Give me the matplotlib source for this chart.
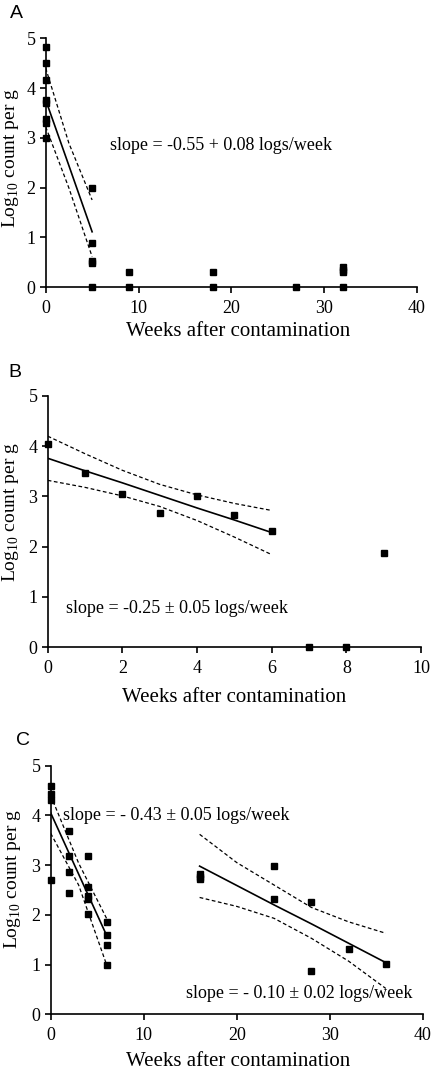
import numpy as np
import matplotlib
matplotlib.use("Agg")
import matplotlib.pyplot as plt

plt.rcParams['font.family'] = ['Liberation Serif', 'DejaVu Serif']
plt.rcParams['mathtext.fontset'] = 'custom'
plt.rcParams['mathtext.rm'] = 'Liberation Serif'

# ---- panel A ----
a_x = [0, 0, 0, 0, 0, 0, 0, 0, 5, 5, 5, 5, 5, 9, 9, 18, 18, 27, 32, 32, 32, 32]
a_y = [4.82, 4.5, 4.17, 3.75, 3.7, 3.38, 3.3, 3.0, 2.0, 0.88, 0.52, 0.48, 0.0,
       0.3, 0.0, 0.3, 0.0, 0.0, 0.4, 0.35, 0.3, 0.0]
a_fit_x = [0, 2.5, 5]
a_fit = [3.76, 2.44, 1.11]
a_up = [4.40, 2.89, 1.75]
a_lo = [3.22, 1.99, 0.61]

# ---- panel B ----
b_x = [0, 1, 2, 3, 4, 5, 6, 7, 8, 9]
b_y = [4.05, 3.47, 3.05, 2.67, 3.0, 2.62, 2.32, 0.0, 0.0, 1.88]
b_fit_x = [0, 1, 2, 3, 4, 5, 6]
b_fit = [3.76, 3.51, 3.27, 3.02, 2.77, 2.53, 2.28]
b_up = [4.20, 3.85, 3.52, 3.24, 3.03, 2.86, 2.72]
b_lo = [3.32, 3.18, 3.01, 2.80, 2.52, 2.19, 1.84]

# ---- panel C ----
c_x = [0, 0, 0, 0, 2, 2, 2, 2, 4, 4, 4, 4, 4, 6, 6, 6, 6,
       16, 16, 16, 24, 24, 28, 28, 32, 36]
c_y = [4.59, 4.44, 4.32, 2.70, 3.69, 3.18, 2.86, 2.43, 3.18, 2.57, 2.38, 2.32, 2.01,
       1.86, 1.59, 1.39, 0.99, 2.83, 2.77, 2.72, 2.99, 2.32, 2.26, 0.88, 1.31, 1.01]
c1_fit_x = [0, 3, 6]
c1_fit = [4.05, 2.82, 1.59]
c1_up = [4.40, 3.04, 1.93]
c1_lo = [3.64, 2.60, 1.00]
c2_fit_x = [16, 20, 24, 28, 32, 36]
c2_fit = [2.98, 2.59, 2.20, 1.82, 1.43, 1.04]
c2_up = [3.62, 3.05, 2.60, 2.15, 1.86, 1.63]
c2_lo = [2.35, 2.17, 1.93, 1.53, 1.07, 0.52]

W, H = 432, 1077
fig = plt.figure(figsize=(W / 100, H / 100), dpi=100)


def make_ax(l, r, t, b):
    return fig.add_axes([l / W, 1 - b / H, (r - l) / W, (b - t) / H])


def style(ax, xmax, xstep):
    ax.set_xlim(0, xmax)
    ax.set_ylim(0, 5)
    ax.set_xticks(np.arange(0, xmax + 0.1, xstep))
    ax.set_yticks(range(6))
    for s in ['top', 'right']:
        ax.spines[s].set_visible(False)
    for s in ['left', 'bottom']:
        ax.spines[s].set_linewidth(1.2)
    ax.tick_params(direction='out', length=4.3, width=1.2, labelsize=13)
    ax.tick_params(axis='x', pad=5)
    ax.tick_params(axis='y', pad=3)


def pts(ax, x, y):
    ax.plot(x, y, 's', color='black', markersize=4, clip_on=False, zorder=5)


def band(ax, fx, fit, up, lo):
    ax.plot(fx, fit, '-', color='black', lw=1.2)
    ax.plot(fx, up, '--', color='black', lw=0.9, dashes=(3, 2))
    ax.plot(fx, lo, '--', color='black', lw=0.9, dashes=(3, 2))


xlab_kw = dict(fontsize=15, ha='center', va='center')
ylab_kw = dict(fontsize=14, ha='center', va='center', rotation=90)
ylab = r"Log$_{\mathrm{10}}$ count per g"
let_kw = dict(fontsize=14, family='Liberation Sans', ha='center', va='center')

# A
ax = make_ax(45.7, 417, 38.3, 287)
style(ax, 40, 10)
band(ax, a_fit_x, a_fit, a_up, a_lo)
pts(ax, a_x, a_y)
ax.text(6.9, 2.84, "slope = -0.55 + 0.08 logs/week", fontsize=13, va='center')
fig.text(238 / W, 1 - 331 / H, "Weeks after contamination", **xlab_kw)
fig.text(11 / W, 1 - 158 / H, ylab, **ylab_kw)
fig.text(16.5 / W, 1 - 14 / H, "A", **let_kw)

# B
ax = make_ax(47.7, 421, 396, 647)
style(ax, 10, 2)
band(ax, b_fit_x, b_fit, b_up, b_lo)
pts(ax, b_x, b_y)
ax.text(0.48, 0.77, "slope = -0.25 \u00b1 0.05 logs/week", fontsize=13, va='center')
fig.text(234 / W, 1 - 697 / H, "Weeks after contamination", **xlab_kw)
fig.text(11 / W, 1 - 512 / H, ylab, **ylab_kw)
fig.text(15 / W, 1 - 372.5 / H, "B", **let_kw)

# C
ax = make_ax(50.7, 423, 765.7, 1014.3)
style(ax, 40, 10)
band(ax, c1_fit_x, c1_fit, c1_up, c1_lo)
band(ax, c2_fit_x, c2_fit, c2_up, c2_lo)
pts(ax, c_x, c_y)
ax.text(1.36, 4.0, "slope = - 0.43 \u00b1 0.05 logs/week", fontsize=13, va='center')
ax.text(14.5, 0.41, "slope = - 0.10 \u00b1 0.02 logs/week", fontsize=13, va='center')
fig.text(238 / W, 1 - 1062 / H, "Weeks after contamination", **xlab_kw)
fig.text(12.5 / W, 1 - 879 / H, ylab, **ylab_kw)
fig.text(23 / W, 1 - 740.5 / H, "C", **let_kw)

fig.savefig("out.png", dpi=100)
